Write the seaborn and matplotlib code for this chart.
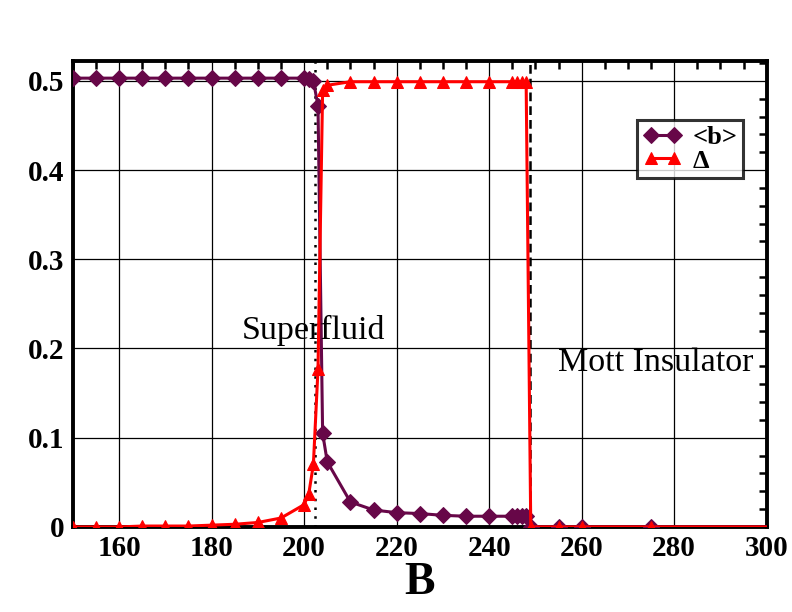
import matplotlib
matplotlib.use("Agg")
import matplotlib.pyplot as plt
from matplotlib.ticker import MultipleLocator, FixedLocator
import seaborn as sns

# magnetic field values and the two order parameters
B = [150, 155, 160, 165, 170, 175, 180, 185, 190, 195, 200, 201, 202, 203, 204, 205,
     210, 215, 220, 225, 230, 235, 240, 245, 246, 247, 248, 249, 255, 260, 275, 320]
b_mean = [0.503, 0.503, 0.503, 0.503, 0.503, 0.503, 0.503, 0.503, 0.503, 0.503, 0.503,
          0.502, 0.500, 0.472, 0.105, 0.073, 0.028, 0.019, 0.016, 0.015, 0.013, 0.012,
          0.012, 0.012, 0.012, 0.012, 0.012, 0.0, 0.0, 0.0, 0.0, 0.0]
delta = [0.0, 0.0, 0.0, 0.001, 0.001, 0.001, 0.002, 0.003, 0.005, 0.010, 0.025,
         0.037, 0.070, 0.177, 0.490, 0.495, 0.499, 0.499, 0.499, 0.499, 0.499, 0.499,
         0.499, 0.499, 0.499, 0.499, 0.499, 0.0, 0.0, 0.0, 0.0, 0.0]

x_ticks = [160, 180, 200, 220, 240, 260, 280, 300]
y_ticks = [0, 0.1, 0.2, 0.3, 0.4, 0.5]
y_tick_labels = ["0", "0.1", "0.2", "0.3", "0.4", "0.5"]

sns.set_theme(style="white")
plt.rcParams['font.family'] = ['Liberation Serif', 'DejaVu Serif']
plt.rcParams['text.color'] = 'black'
plt.rcParams['xtick.color'] = 'black'
plt.rcParams['ytick.color'] = 'black'
plt.rcParams['axes.labelcolor'] = 'black'

fig = plt.figure(figsize=(7.92, 6.12), dpi=100)
ax = fig.add_axes([0.092, 0.139, 0.876, 0.761])

purple = "#670748"
red = "#ff0000"

sns.lineplot(x=B, y=b_mean, ax=ax, color=purple, marker="D", markersize=8,
             markeredgecolor=purple, linewidth=2.2, sort=False, estimator=None,
             label="<b>", zorder=3)
sns.lineplot(x=B, y=delta, ax=ax, color=red, marker="^", markersize=9,
             markeredgecolor=red, linewidth=2.2, sort=False, estimator=None,
             label="Δ", zorder=4)

# phase boundaries
ax.axvline(202.4, color="black", linestyle=(0, (1, 2.5)), linewidth=1.8, zorder=2)
ax.axvline(248.8, color="black", linestyle=(0, (3.5, 2)), linewidth=1.8, zorder=2)

ax.set_xlim(150, 300)
ax.set_ylim(0, 0.522)
ax.xaxis.set_major_locator(FixedLocator(x_ticks))
ax.xaxis.set_minor_locator(MultipleLocator(5))
ax.set_yticks(y_ticks)
ax.set_yticklabels(y_tick_labels)
ax.yaxis.set_minor_locator(MultipleLocator(0.02))

ax.grid(True, which="major", color="black", linewidth=0.9)
ax.tick_params(which="both", direction="in", top=True, right=True,
               width=1.8, color="black")
ax.tick_params(which="major", length=0, labelsize=21, pad=6)
ax.tick_params(which="minor", length=6)
for lab in ax.get_xticklabels() + ax.get_yticklabels():
    lab.set_fontweight("bold")

for sp in ax.spines.values():
    sp.set_linewidth(2.8)
    sp.set_color("black")

ax.set_xlabel("B", fontsize=33, fontweight="bold", labelpad=0)
ax.set_ylabel("")

ax.text(202.0, 0.22, "Superfluid", fontsize=24.5, ha="center", va="center")
ax.text(276, 0.184, "Mott Insulator", fontsize=24.5, ha="center", va="center")

leg = ax.legend(loc="upper right", bbox_to_anchor=(0.966, 0.873), fontsize=19,
                frameon=True, fancybox=False, numpoints=2, handlelength=1.5,
                borderpad=0.2, labelspacing=0.0, handletextpad=0.4,
                borderaxespad=0)
leg.get_frame().set_edgecolor("black")
leg.get_frame().set_linewidth(2.2)
for t in leg.get_texts():
    t.set_fontweight("bold")

fig.savefig("out.png", dpi=100)
